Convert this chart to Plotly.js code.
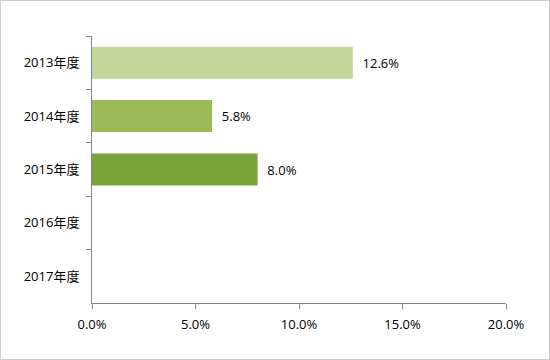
<!DOCTYPE html>
<html><head><meta charset="utf-8">
<script src="https://cdn.plot.ly/plotly-3.0.1.min.js"></script>
<style>
body{margin:0;padding:0;background:#fff;}
#wrap{position:relative;width:550px;height:360px;}
#chart{width:550px;height:360px;}
#frame{position:absolute;left:0;top:0;width:550px;height:360px;box-sizing:border-box;border:1px solid #D0D0D0;pointer-events:none;}
</style></head>
<body>
<div id="wrap"><div id="chart"></div><div id="frame"></div></div>
<script>
const categories = ["2013年度","2014年度","2015年度","2016年度","2017年度"];
const values = [12.6, 5.8, 8.0, null, null];
const labels = ["12.6%","5.8%","8.0%","",""];
const barColors = ["#C4D79B","#9BBB59","#77A53A","#77A53A","#77A53A"];
const xTickVals = [0,5,10,15,20];
const xTickText = ["0.0%","5.0%","10.0%","15.0%","20.0%"];

const font = "'Open Sans', 'Noto Sans CJK JP', sans-serif";
Plotly.newPlot("chart", [{
  type: "bar", orientation: "h",
  y: categories, x: values,
  text: labels, textposition: "outside", cliponaxis: false,
  texttemplate: "  %{text}",
  textfont: {family: font, size: 13, color: "#000"},
  marker: {color: barColors},
  hoverinfo: "none"
}], {
  width: 550, height: 360,
  margin: {l: 92, r: 44, t: 36, b: 57, pad: 0},
  paper_bgcolor: "#fff", plot_bgcolor: "#fff",
  bargap: 0.4,
  showlegend: false,
  xaxis: {
    range: [0, 20], tickvals: xTickVals, ticktext: xTickText,
    showgrid: false, zeroline: false,
    showline: true, linecolor: "#868686", linewidth: 1,
    ticks: "outside", ticklen: 5, tickcolor: "#868686",
    ticklabelstandoff: 4,
    tickfont: {family: font, size: 13, color: "#000"},
    fixedrange: true
  },
  yaxis: {
    type: "category", autorange: "reversed",
    showgrid: false, zeroline: false,
    showline: true, linecolor: "#868686", linewidth: 1,
    ticks: "outside", ticklen: 5, tickcolor: "#868686",
    tickson: "boundaries", ticklabelstandoff: 9,
    tickfont: {family: font, size: 13, color: "#000"},
    fixedrange: true
  }
}, {staticPlot: true, displayModeBar: false});
</script>
</body></html>
